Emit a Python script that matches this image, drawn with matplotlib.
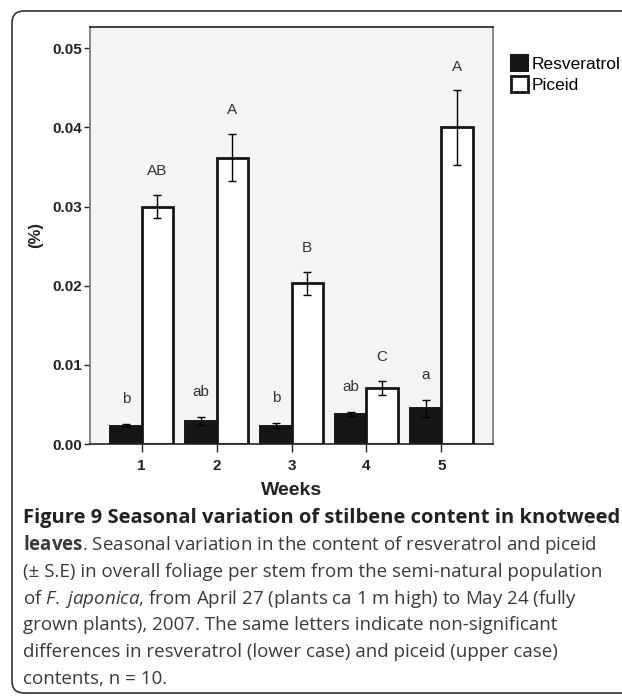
import matplotlib
matplotlib.use("Agg")
import matplotlib.pyplot as plt
from matplotlib.patches import FancyBboxPatch, Patch
import numpy as np

weeks = [1, 2, 3, 4, 5]
resveratrol = [0.0023, 0.0029, 0.0023, 0.0038, 0.0045]
resveratrol_se = [0.0002, 0.0005, 0.0003, 0.0003, 0.0011]
piceid = [0.0300, 0.0362, 0.0203, 0.0071, 0.0400]
piceid_se = [0.0015, 0.0030, 0.0015, 0.0009, 0.0047]
resv_letters = ["b", "ab", "b", "ab", "a"]
piceid_letters = ["AB", "A", "B", "C", "A"]

W, H = 622, 696
plt.rcParams["font.family"] = ["Liberation Sans", "DejaVu Sans"]
plt.rcParams["mathtext.fontset"] = "custom"
plt.rcParams["mathtext.rm"] = "Open Sans"
plt.rcParams["mathtext.it"] = "Open Sans:italic"
plt.rcParams["mathtext.bf"] = "Open Sans:bold"

fig = plt.figure(figsize=(W / 100, H / 100), dpi=100)

# rounded frame around figure + caption (cut at right edge)
frame = FancyBboxPatch((12 / 100, 3 / 100), 7.0, (H - 14) / 100,
                       boxstyle="round,pad=0,rounding_size=0.12",
                       transform=fig.dpi_scale_trans, fill=False,
                       edgecolor="#333333", linewidth=1.2)
fig.patches.append(frame)

ax = fig.add_axes([90 / W, 1 - 444 / H, (493 - 90) / W, (444 - 27) / H])
ax.set_facecolor("#f4f4f4")

x = np.array(weeks)
bw = 0.42
err_kw = dict(ecolor="black", elinewidth=1.0, capsize=3.2, capthick=1.0)
ax.bar(x - bw / 2, resveratrol, bw, yerr=resveratrol_se, color="#161616",
       edgecolor="#161616", linewidth=1.4, error_kw=err_kw, zorder=2)
ax.bar(x + bw / 2, piceid, bw, yerr=piceid_se, color="white",
       edgecolor="#161616", linewidth=2.0, error_kw=err_kw, zorder=2)

for i in range(len(weeks)):
    ax.annotate(resv_letters[i], (x[i] - bw / 2, resveratrol[i] + resveratrol_se[i]),
                xytext=(0, 18), textcoords="offset points", ha="center", va="center",
                fontsize=11, color="#333333")
    ax.annotate(piceid_letters[i], (x[i] + bw / 2, piceid[i] + piceid_se[i]),
                xytext=(0, 17), textcoords="offset points", ha="center", va="center",
                fontsize=11, color="#333333")

ax.set_xlim(0.31, 5.69)
ax.set_ylim(0, 0.0527)
ax.set_xticks(weeks)
ax.set_yticks([0, 0.01, 0.02, 0.03, 0.04, 0.05])
ax.set_yticklabels(["0.00", "0.01", "0.02", "0.03", "0.04", "0.05"])
ax.tick_params(axis="y", length=4, width=1.0, pad=2, labelsize=11, colors="#222222")
ax.tick_params(axis="x", length=6, width=1.0, pad=5, labelsize=11, colors="#222222")
for lab in ax.get_xticklabels() + ax.get_yticklabels():
    lab.set_fontweight("bold")
for side in ["left", "right"]:
    ax.spines[side].set_color("#777777")
    ax.spines[side].set_linewidth(1.2)
for side in ["top", "bottom"]:
    ax.spines[side].set_color("#222222")
    ax.spines[side].set_linewidth(1.2)

ax.set_xlabel("Weeks", fontsize=14, fontweight="bold", labelpad=6, color="#222222")
ax.set_ylabel("(%)", fontsize=12, fontweight="bold", labelpad=6, color="#222222")

handles = [Patch(facecolor="#161616", edgecolor="#161616", linewidth=1.5),
           Patch(facecolor="white", edgecolor="#161616", linewidth=2.0)]
fig.legend(handles, ["Resveratrol", "Piceid"], loc="upper left",
           bbox_to_anchor=(511 / W, 1 - 55 / H), frameon=False, fontsize=12.5,
           handlelength=1.0, handleheight=1.0, handletextpad=0.2,
           labelspacing=0.25, borderpad=0, borderaxespad=0)

# caption
cx = 23 / W
fig.text(cx, 1 - 518 / H, "Figure 9 Seasonal variation of stilbene content in knotweed",
         family="Open Sans", fontweight="bold", fontsize=14.5, color="#222222",
         va="center", ha="left")
lines = [
    r"$\mathbf{leaves}$. Seasonal variation in the content of resveratrol and piceid",
    "(± S.E) in overall foliage per stem from the semi-natural population",
    r"of $\mathit{F.}$ $\mathit{japonica}$, from April 27 (plants ca 1 m high) to May 24 (fully",
    "grown plants), 2007. The same letters indicate non-significant",
    "differences in resveratrol (lower case) and piceid (upper case)",
    "contents, n = 10.",
]
for k, line in enumerate(lines):
    fig.text(cx, 1 - (545 + 26.8 * k) / H, line, family="Open Sans",
             fontsize=13.5, color="#3a3a3a", va="center", ha="left")

fig.savefig("out.png", dpi=100)
